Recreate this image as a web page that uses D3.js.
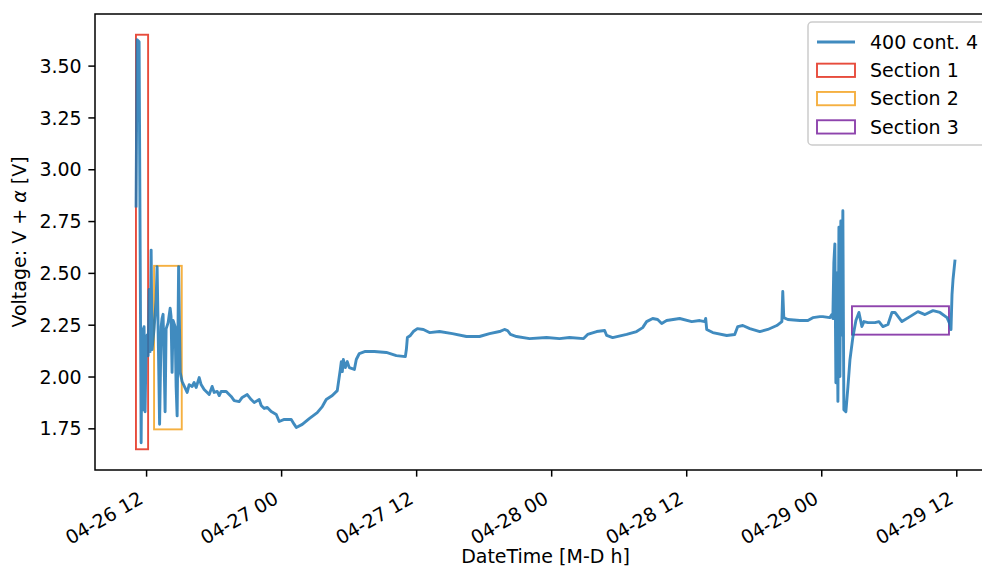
<!DOCTYPE html>
<html>
<head>
<meta charset="utf-8">
<script src="https://cdn.jsdelivr.net/npm/d3@7"></script>
<style>
  body { margin: 0; background: #fff; }
  svg text { font-family: "DejaVu Sans", sans-serif; fill: #000; }
</style>
</head>
<body>
<svg id="chart" width="982" height="569"></svg>
<script>
// ---- data ----
const seriesName = "400 cont. 4";
const startDate = new Date(2023, 3, 26, 0, 0, 0); // hours below count from 04-26 00:00

const hours = [
  11.11, 11.20, 11.38, 11.56, 11.64, 11.73, 11.82, 11.91, 12.00, 12.09,
  12.18, 12.27, 12.36, 12.45, 12.53, 12.71, 12.89, 12.98, 13.07, 13.20,
  13.34, 13.42, 13.51, 13.60, 13.69, 13.78, 13.96, 14.14, 14.22, 14.31,
  14.40, 14.58, 14.67, 14.76, 14.89, 15.03, 15.20, 15.65, 15.83, 16.09,
  16.27, 16.45, 16.72, 16.89, 17.16, 17.61, 17.87, 18.05, 18.32, 18.50,
  18.67, 19.12, 19.56, 19.83, 20.27, 20.54, 20.99, 21.34, 21.61, 22.05,
  22.23, 22.50, 22.77, 23.12, 23.57, 23.83, 24.28, 24.90, 25.17, 25.35,
  25.88, 26.50, 27.21, 27.66, 28.01, 28.55, 28.99, 29.26, 29.35, 29.44,
  29.53, 29.71, 29.88, 30.06, 30.51, 30.68, 30.95, 31.48, 32.29, 33.35,
  34.24, 35.04, 35.13, 35.22, 35.49, 35.75, 36.11, 36.64, 37.18, 38.07,
  39.22, 40.47, 41.63, 42.52, 43.41, 43.85, 44.12, 44.38, 44.92, 46.08,
  47.59, 48.74, 49.63, 50.88, 51.24, 52.04, 52.75, 52.93, 53.46, 54.71,
  55.59, 56.13, 56.48, 57.02, 57.46, 57.82, 58.26, 59.42, 60.49, 61.20,
  61.64, 61.73, 61.82, 62.36, 63.60, 64.31, 64.58, 65.03, 65.65, 66.54,
  67.25, 68.05, 68.50, 68.58, 68.67, 69.03, 70.10, 70.81, 71.25, 71.88,
  72.14, 72.76, 72.94, 73.03, 73.12, 73.21, 73.30, 73.39, 73.48, 73.57,
  73.66, 73.74, 73.83, 73.92, 74.01, 74.19, 74.37, 74.55, 74.81, 75.08,
  75.35, 75.61, 75.79, 76.15, 76.77, 77.13, 77.48, 77.93, 78.28, 78.55,
  79.17, 79.88, 80.59, 81.22, 81.93, 82.55, 83.18, 83.44, 83.53, 83.62,
  83.71, 83.89
];

const volts = [
  2.815, 3.625, 3.615, 1.680, 2.230, 1.840, 2.240, 1.830, 2.130, 2.200,
  2.100, 2.420, 2.120, 2.610, 2.130, 2.230, 2.370, 2.530, 2.230, 1.770,
  2.240, 2.280, 2.300, 2.080, 1.830, 2.230, 2.260, 2.330, 2.290, 2.020,
  2.270, 2.240, 1.950, 1.810, 2.530, 2.020, 1.976, 1.923, 1.961, 1.952,
  1.971, 1.947, 1.995, 1.961, 1.937, 1.913, 1.952, 1.923, 1.928, 1.908,
  1.928, 1.928, 1.904, 1.884, 1.879, 1.899, 1.913, 1.889, 1.875, 1.889,
  1.860, 1.846, 1.851, 1.831, 1.817, 1.783, 1.793, 1.793, 1.769, 1.754,
  1.769, 1.797, 1.826, 1.855, 1.889, 1.908, 1.932, 2.034, 2.072, 2.024,
  2.082, 2.043, 2.072, 2.043, 2.034, 2.082, 2.111, 2.121, 2.121, 2.116,
  2.101, 2.096, 2.130, 2.188, 2.198, 2.217, 2.231, 2.227, 2.212, 2.217,
  2.207, 2.193, 2.193, 2.207, 2.217, 2.227, 2.222, 2.203, 2.193, 2.183,
  2.188, 2.183, 2.188, 2.183, 2.203, 2.217, 2.222, 2.198, 2.188, 2.203,
  2.217, 2.236, 2.265, 2.280, 2.275, 2.256, 2.270, 2.280, 2.265, 2.270,
  2.265, 2.280, 2.227, 2.212, 2.198, 2.203, 2.241, 2.246, 2.231, 2.217,
  2.227, 2.246, 2.265, 2.410, 2.284, 2.275, 2.270, 2.270, 2.284, 2.289,
  2.289, 2.284, 2.299, 2.280, 2.550, 2.640, 1.970, 2.500, 1.880, 2.720,
  2.000, 2.750, 2.200, 2.800, 1.840, 1.830, 1.950, 2.080, 2.190, 2.270,
  2.309, 2.241, 2.265, 2.260, 2.260, 2.265, 2.241, 2.251, 2.309, 2.309,
  2.265, 2.289, 2.313, 2.299, 2.318, 2.309, 2.284, 2.251, 2.227, 2.395,
  2.468, 2.564
];

// highlighted sections (hours from start, voltage bounds)
const sectionNames  = ["Section 1", "Section 2", "Section 3"];
const sectionStartH = [11.10, 12.71, 74.73];
const sectionEndH   = [12.18, 15.17, 83.35];
const sectionLow    = [1.649, 1.745, 2.202];
const sectionHigh   = [3.649, 2.534, 2.339];
const sectionColors = ["#e74c3c", "#f5b041", "#8e44ad"];

const yTicks = [1.75, 2.00, 2.25, 2.50, 2.75, 3.00, 3.25, 3.50];
const xLabel = "DateTime [M-D h]";

// ---- layout ----
const FS = 19;
const plot = { left: 95, right: 996, top: 14, bottom: 470 };
const tickLen = 6.65, tickPad = 6.65;
const lineColor = "#1f77b4";

const toDate = h => new Date(startDate.getTime() + h * 3600 * 1000);
const points = hours.map((h, i) => ({ t: toDate(h), v: volts[i] }));
const sections = sectionNames.map((name, i) => ({
  name, color: sectionColors[i],
  t0: toDate(sectionStartH[i]), t1: toDate(sectionEndH[i]),
  lo: sectionLow[i], hi: sectionHigh[i]
}));

// autoscale over line and rectangles with 5% margins
const hMin = Math.min(d3.min(hours), d3.min(sectionStartH));
const hMax = Math.max(d3.max(hours), d3.max(sectionEndH));
const vMin = Math.min(d3.min(volts), d3.min(sectionLow));
const vMax = Math.max(d3.max(volts), d3.max(sectionHigh));
const hPad = (hMax - hMin) * 0.05, vPad = (vMax - vMin) * 0.05;

const x = d3.scaleTime()
  .domain([toDate(hMin - hPad), toDate(hMax + hPad)])
  .range([plot.left, plot.right]);
const y = d3.scaleLinear()
  .domain([vMin - vPad, vMax + vPad])
  .range([plot.bottom, plot.top]);

const svg = d3.select("#chart");
svg.append("rect").attr("width", 982).attr("height", 569).attr("fill", "#fff");

// section rectangles (drawn under the line)
svg.append("g").selectAll("rect").data(sections).join("rect")
  .attr("x", d => x(d.t0))
  .attr("y", d => y(d.hi))
  .attr("width", d => x(d.t1) - x(d.t0))
  .attr("height", d => y(d.lo) - y(d.hi))
  .attr("fill", "none")
  .attr("stroke", d => d.color)
  .attr("stroke-width", 1.9);

// voltage line
const line = d3.line().x(d => x(d.t)).y(d => y(d.v));
svg.append("path")
  .datum(points)
  .attr("d", line)
  .attr("fill", "none")
  .attr("stroke", lineColor)
  .attr("stroke-opacity", 0.85)
  .attr("stroke-width", 2.9)
  .attr("stroke-linejoin", "round")
  .attr("stroke-linecap", "butt");

// x axis
const xAxis = d3.axisBottom(x)
  .ticks(d3.timeHour.every(12))
  .tickFormat(d3.timeFormat("%m-%d %H"))
  .tickSize(tickLen)
  .tickSizeOuter(0);
const gx = svg.append("g").attr("transform", `translate(0,${plot.bottom})`).call(xAxis);
gx.select(".domain").remove();
gx.selectAll(".tick line").attr("stroke", "#000").attr("stroke-width", 1.5);
gx.selectAll(".tick text")
  .attr("font-size", FS)
  .attr("text-anchor", "end")
  .attr("y", null).attr("dy", null)
  .attr("transform", `translate(-2,${tickLen + tickPad + 19}) rotate(-30)`);

// y axis
const yAxis = d3.axisLeft(y)
  .tickValues(yTicks)
  .tickFormat(d3.format(".2f"))
  .tickSize(tickLen)
  .tickPadding(tickPad)
  .tickSizeOuter(0);
const gy = svg.append("g").attr("transform", `translate(${plot.left},0)`).call(yAxis);
gy.select(".domain").remove();
gy.selectAll(".tick line").attr("stroke", "#000").attr("stroke-width", 1.5);
gy.selectAll(".tick text").attr("font-size", FS).attr("dy", "0.35em");

// frame
svg.append("rect")
  .attr("x", plot.left).attr("y", plot.top)
  .attr("width", plot.right - plot.left).attr("height", plot.bottom - plot.top)
  .attr("fill", "none").attr("stroke", "#000").attr("stroke-width", 1.5);

// axis labels
svg.append("text")
  .attr("x", (plot.left + plot.right) / 2).attr("y", 563)
  .attr("text-anchor", "middle").attr("font-size", FS)
  .text(xLabel);
const yl = svg.append("text")
  .attr("transform", `translate(26,${(plot.top + plot.bottom) / 2}) rotate(-90)`)
  .attr("text-anchor", "middle").attr("font-size", FS);
yl.append("tspan").text("Voltage: V + ");
yl.append("tspan").attr("font-style", "italic").text("\u03b1");
yl.append("tspan").text(" [V]");

// legend
const lg = svg.append("g").attr("transform", "translate(808,22)");
lg.append("rect")
  .attr("width", 190).attr("height", 123).attr("rx", 4)
  .attr("fill", "#fff").attr("fill-opacity", 0.8)
  .attr("stroke", "#cccccc").attr("stroke-width", 1.5);
const rowY = i => 20 + i * 28.3;
lg.append("line")
  .attr("x1", 9).attr("x2", 47).attr("y1", rowY(0)).attr("y2", rowY(0))
  .attr("stroke", lineColor).attr("stroke-opacity", 0.85).attr("stroke-width", 2.9);
lg.append("text").attr("x", 62).attr("y", rowY(0)).attr("dy", "0.35em")
  .attr("font-size", FS).text(seriesName);
sections.forEach((s, i) => {
  lg.append("rect")
    .attr("x", 9).attr("y", rowY(i + 1) - 6.65).attr("width", 38).attr("height", 13.3)
    .attr("fill", "none").attr("stroke", s.color).attr("stroke-width", 1.9);
  lg.append("text").attr("x", 62).attr("y", rowY(i + 1)).attr("dy", "0.35em")
    .attr("font-size", FS).text(s.name);
});
</script>
</body>
</html>
